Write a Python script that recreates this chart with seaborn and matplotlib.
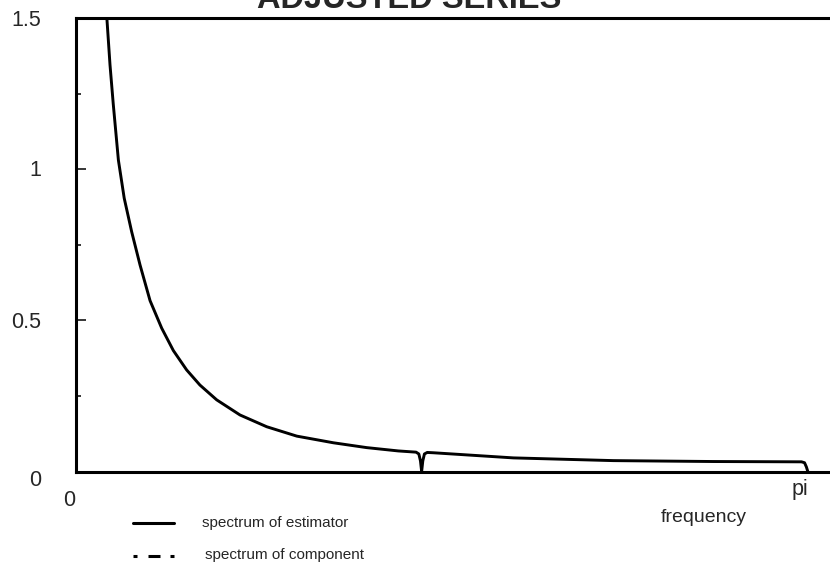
import numpy as np
import pandas as pd
import matplotlib
matplotlib.use("Agg")
import matplotlib.pyplot as plt
from matplotlib.lines import Line2D
import seaborn as sns

# ---- data ----
freq = [0.120, 0.133, 0.146, 0.160, 0.182, 0.207, 0.239, 0.275, 0.318, 0.368,
        0.418, 0.475, 0.532, 0.604, 0.704, 0.819, 0.948, 1.105, 1.248, 1.384,
        1.460, 1.472, 1.479, 1.484, 1.489, 1.496, 1.508, 1.534, 1.878, 2.307,
        2.736, 3.115, 3.128, 3.136, 3.142]
spectrum = [1.60, 1.494, 1.345, 1.215, 1.030, 0.904, 0.793, 0.683, 0.565, 0.474,
            0.400, 0.336, 0.286, 0.237, 0.187, 0.148, 0.117, 0.095, 0.079, 0.068,
            0.064, 0.058, 0.035, 0.0, 0.035, 0.058, 0.063, 0.062, 0.045, 0.036,
            0.033, 0.032, 0.029, 0.015, 0.0]
y_ticks_major = [0.5, 1.0]
y_ticks_minor = [0.25, 0.75, 1.25]
y_labels = ["0", "0.5", "1", "1.5"]
x_labels = ["0", "pi"]
legend_labels = ["spectrum of estimator", "spectrum of component"]
title = "ADJUSTED SERIES"

df = pd.DataFrame({"frequency": freq, "spectrum": spectrum})

sns.set_style("white")
plt.rcParams["font.family"] = ["Liberation Sans", "DejaVu Sans"]

W, H = 830, 570
fig = plt.figure(figsize=(W / 100, H / 100), dpi=100)
x0, y0, x1, y1 = 76, 471.5, 830, 18
ax = fig.add_axes([x0 / W, 1 - y0 / H, (x1 - x0) / W, (y0 - y1) / H])

sns.lineplot(data=df, x="frequency", y="spectrum", ax=ax, color="black",
             lw=2.1, sort=False, estimator=None)

xmax = (x1 - x0) / ((807.7 - x0) / np.pi)
ax.set_xlim(0, xmax)
ax.set_ylim(0, 1.5)

for s in ["left", "bottom", "top"]:
    ax.spines[s].set_visible(True)
    ax.spines[s].set_linewidth(2.2)
    ax.spines[s].set_color("black")
ax.spines["right"].set_visible(False)

ax.set_xticks([])
ax.set_yticks(y_ticks_major)
ax.set_yticks(y_ticks_minor, minor=True)
ax.tick_params(axis="y", which="major", direction="in", length=7, width=1.3,
               labelleft=False, left=True)
ax.tick_params(axis="y", which="minor", direction="in", length=3.5, width=1.3,
               left=True)
ax.set_xlabel("")
ax.set_ylabel("")

def fx(px):
    return px / W

def fy(py):
    return 1 - py / H

fs = 15.5
# y labels
for lab, py in zip(y_labels, [480, 323, 171, 20]):
    fig.text(fx(41), fy(py), lab, ha="right", va="center", fontsize=fs)
# x labels
fig.text(fx(69), fy(500), x_labels[0], ha="center", va="center", fontsize=fs)
fig.text(fx(800), fy(490), x_labels[1], ha="center", va="center", fontsize=fs)
fig.text(fx(704), fy(517), "frequency", ha="center", va="center", fontsize=14)

# title (partially cut off at the top as in the reference)
fig.text(fx(409), fy(8), title, ha="center", va="baseline",
         fontsize=23.5, fontweight="bold")

# legend
fig.add_artist(Line2D([fx(133), fx(174)], [fy(523), fy(523)], color="black",
                      lw=2.2, transform=fig.transFigure))
for a, b in [(133, 137), (148, 160), (170, 174)]:
    fig.add_artist(Line2D([fx(a), fx(b)], [fy(555.5), fy(555.5)], color="black",
                          lw=2.2, transform=fig.transFigure, solid_capstyle="butt"))
fig.text(fx(202), fy(523), legend_labels[0], ha="left", va="center", fontsize=11)
fig.text(fx(205), fy(555.5), legend_labels[1], ha="left", va="center", fontsize=11)

fig.savefig("out.png", dpi=100)
